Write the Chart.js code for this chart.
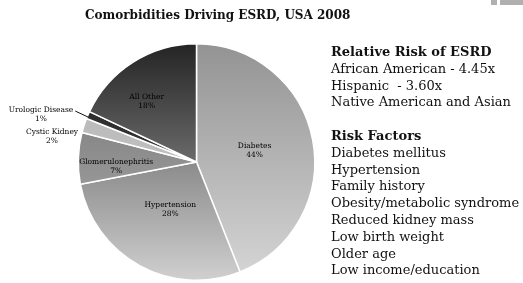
<!DOCTYPE html>
<html>
<head>
<meta charset="utf-8">
<script src="https://cdn.jsdelivr.net/npm/chart.js@4"></script>
<style>
  html, body { margin: 0; padding: 0; background: #fff; }
  #wrap { position: relative; width: 523px; height: 283px; overflow: hidden; }
  #myChart { position: absolute; left: 0; top: 0; }
  #title { position: absolute; left: 85px; top: 8px; font: bold 12px "DejaVu Serif", serif; color: #111; white-space: nowrap; }
  #side { position: absolute; left: 331px; top: 44px; font: 13px "DejaVu Serif", serif; color: #111; line-height: 16.8px; white-space: nowrap; }
  #side b { font-weight: bold; }
  .deco { position: absolute; top: 0; height: 5px; background: #b0b0b0; }
</style>
</head>
<body>
<div id="wrap">
  <canvas id="myChart" width="523" height="283"></canvas>
  <div id="title">Comorbidities Driving ESRD, USA 2008</div>
  <div id="side">
    <b>Relative Risk of ESRD</b><br>
    African American - 4.45x<br>
    Hispanic&nbsp; - 3.60x<br>
    Native American and Asian<br>
    <br>
    <b>Risk Factors</b><br>
    Diabetes mellitus<br>
    Hypertension<br>
    Family history<br>
    Obesity/metabolic syndrome<br>
    Reduced kidney mass<br>
    Low birth weight<br>
    Older age<br>
    Low income/education
  </div>
  <div class="deco" style="left:491px;width:6px"></div>
  <div class="deco" style="left:500px;width:23px"></div>
</div>
<script>
'use strict'

// ------------------------- Data -------------------------------------- //
const categories = ['Diabetes', 'Hypertension', 'Glomerulonephritis', 'Cystic Kidney', 'Urologic Disease', 'All Other'];
const shares = [44, 28, 7, 2, 1, 18];

// gradient top / bottom colour per slice
const topColors = ['#939393', '#464646', '#6e6e6e', '#b4b4b4', '#222222', '#242424'];
const bottomColors = ['#d6d6d6', '#d0d0d0', '#b2b2b2', '#cacaca', '#4a4a4a', '#b0b0b0'];

// ------------------------- Helpers -------------------------------------- //
function sliceFill(context) {
    const chart = context.chart;
    const area = chart.chartArea;
    if (!area) return topColors[context.dataIndex];
    let g = chart.ctx.createLinearGradient(0, area.top, 0, area.bottom);
    g.addColorStop(0, topColors[context.dataIndex]);
    g.addColorStop(1, bottomColors[context.dataIndex]);
    return g;
}

// label placement: radius factor (of outer radius) plus a nudge, or outside with offsets
function labelSpot(i, arc) {
    const mid = (arc.startAngle + arc.endAngle) / 2;
    const r = arc.outerRadius;
    const inside = [0.5, 0.46, 0.68, null, null, 0.66];
    const nudge = [[0, 0], [0, 0], [0, 8], null, null, [-8, 6]];
    if (inside[i] !== null) {
        return {
            x: arc.x + Math.cos(mid) * r * inside[i] + nudge[i][0],
            y: arc.y + Math.sin(mid) * r * inside[i] + nudge[i][1]
        };
    }
    const ox = arc.x + Math.cos(mid) * r;
    const oy = arc.y + Math.sin(mid) * r;
    if (i === 3) return { x: ox - 32, y: oy + 12 };
    return { x: ox - 47, y: oy, leader: { x: ox, y: oy + 2 } };
}

const sliceLabels = {
    id: 'sliceLabels',
    afterDatasetsDraw(chart) {
        const ctx = chart.ctx;
        const meta = chart.getDatasetMeta(0);
        ctx.save();
        ctx.font = '7.5px "DejaVu Serif", serif';
        ctx.fillStyle = '#000';
        ctx.textAlign = 'center';
        ctx.textBaseline = 'middle';
        meta.data.forEach(function(arc, i) {
            const p = labelSpot(i, arc);
            ctx.fillText(categories[i], p.x, p.y - 5);
            ctx.fillText(shares[i] + '%', p.x, p.y + 4);
            if (p.leader) {
                const w = ctx.measureText(categories[i]).width;
                ctx.strokeStyle = '#111';
                ctx.lineWidth = 1;
                ctx.beginPath();
                ctx.moveTo(p.x + w / 2 + 2, p.y - 4);
                ctx.lineTo(p.leader.x, p.leader.y);
                ctx.stroke();
            }
        });
        ctx.restore();
    }
};

// ------------------------------ Main ------------------------------ //
const chart = new Chart(document.getElementById('myChart'), {
    type: 'pie',
    data: {
        labels: categories,
        datasets: [{
            data: shares,
            backgroundColor: sliceFill,
            borderColor: '#ffffff',
            borderWidth: 1.5
        }]
    },
    options: {
        responsive: false,
        animation: false,
        layout: { padding: { left: 77, right: 207, top: 43, bottom: 2 } },
        plugins: {
            legend: { display: false },
            tooltip: { enabled: false }
        }
    },
    plugins: [sliceLabels]
});
</script>
</body>
</html>
